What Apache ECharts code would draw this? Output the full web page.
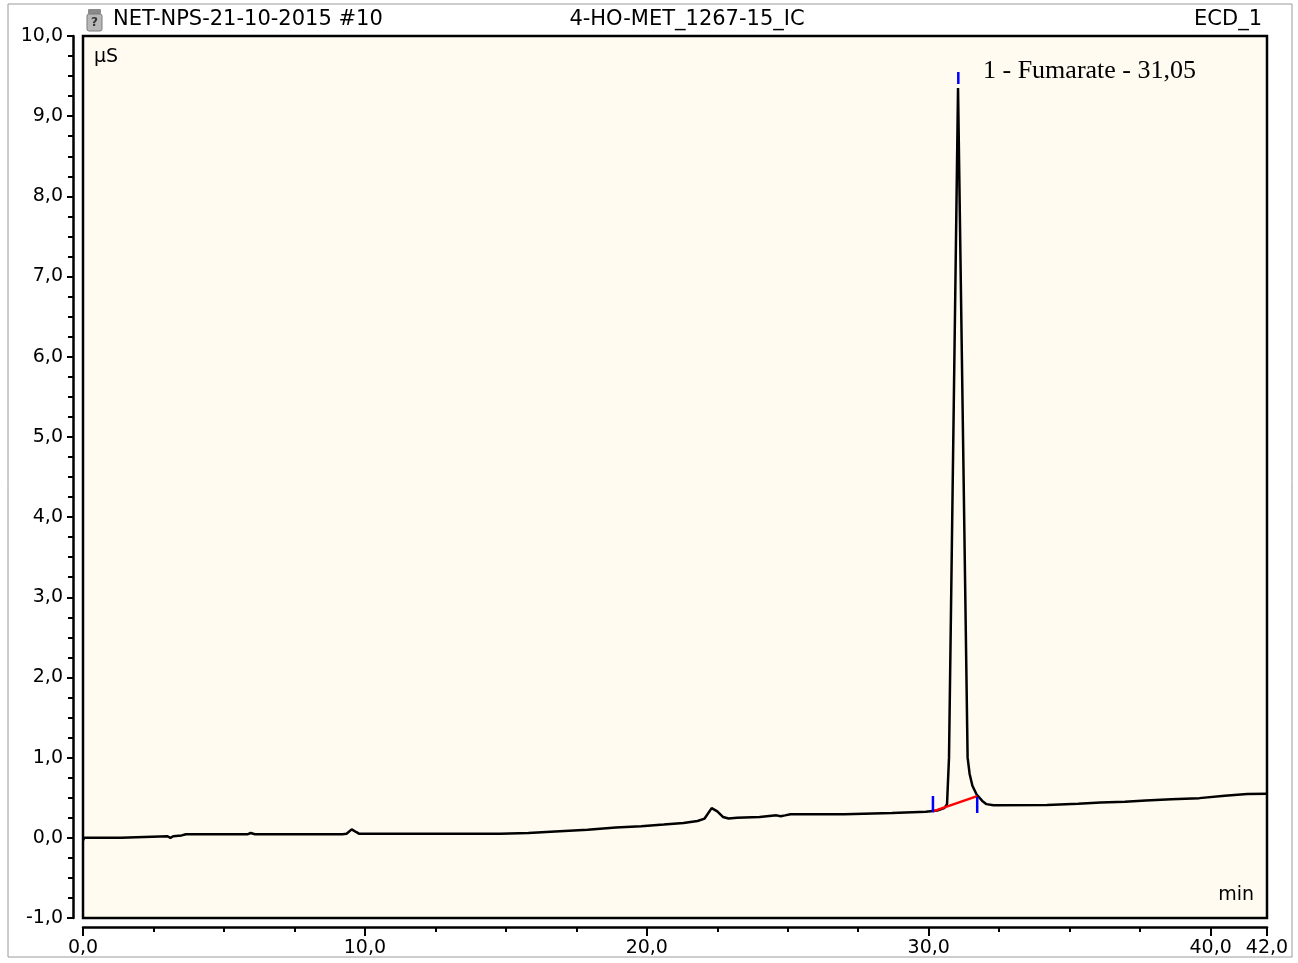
<!DOCTYPE html>
<html>
<head>
<meta charset="utf-8">
<title>NET-NPS-21-10-2015 #10</title>
<script src="https://cdn.jsdelivr.net/npm/echarts@6/dist/echarts.min.js"></script>
<style>
    html, body { margin: 0; padding: 0; background: #fff; }
    #charts-con { width: 1298px; height: 963px; }
</style>
</head>
<body>
<div id="charts-con"></div>
<script>
    // retention time (min) / conductivity (µS)
    var timeMin = [0.0, 0.05, 1.35, 1.4, 3.0, 3.1, 3.2, 3.5, 3.65, 5.85, 5.95, 6.1, 9.2, 9.35, 9.53, 9.7, 9.8,
        14.8, 14.85, 15.8, 15.85, 16.75, 16.8, 17.9, 17.95, 18.9, 19.8, 20.6, 21.3, 21.8, 22.05, 22.3, 22.5, 22.7,
        22.9, 23.2, 24.0, 24.6, 24.75, 24.9, 25.1, 27.0, 27.05, 28.7, 28.75, 29.9, 30.3, 30.55, 30.65, 30.72,
        31.04, 31.07, 31.38, 31.45, 31.55, 31.7, 31.9, 32.05, 32.3, 34.2, 35.3, 36.1, 36.96, 37.7, 38.6, 39.6,
        40.5, 41.3, 42.0];
    var signalUS = [-0.03, 0.0, 0.0, 0.02, 0.02, 0.0, 0.02, 0.03, 0.045, 0.045, 0.06, 0.045, 0.045, 0.05, 0.105, 0.07, 0.05,
        0.05, 0.06, 0.06, 0.08, 0.08, 0.10, 0.10, 0.115, 0.13, 0.145, 0.165, 0.185, 0.21, 0.24, 0.37, 0.33, 0.26,
        0.24, 0.25, 0.26, 0.28, 0.27, 0.28, 0.295, 0.295, 0.31, 0.31, 0.325, 0.325, 0.34, 0.37, 0.42, 1.0,
        9.35, 9.35, 1.0, 0.8, 0.65, 0.54, 0.46, 0.42, 0.405, 0.41, 0.425, 0.44, 0.45, 0.465, 0.48, 0.495,
        0.525, 0.545, 0.55];

    // integration baseline and peak delimiters
    var baseTime = [30.15, 31.72];
    var baseValue = [0.33, 0.52];
    var markStart = [[30.15, 0.32], [30.15, 0.52]];
    var markEnd = [[31.72, 0.31], [31.72, 0.51]];
    var markApex = [[31.05, 9.40], [31.05, 9.55]];

    var xMajor = [0, 10, 20, 30, 40, 42];

    var trace = [];
    for (var i = 0; i < timeMin.length; i++) {
        trace.push([timeMin[i], signalUS[i]]);
    }
    var baseline = [];
    for (var j = 0; j < baseTime.length; j++) {
        baseline.push([baseTime[j], baseValue[j]]);
    }

    var font = 'DejaVu Sans';
    function comma(v) {
        return Number(v).toFixed(1).replace('.', ',');
    }

    var myChart = echarts.init(document.getElementById('charts-con'));
    var option = {
        animation: false,
        backgroundColor: '#ffffff',
        grid: {
            left: 83,
            right: 31,
            top: 36,
            bottom: 45,
            show: true,
            backgroundColor: '#fffbf0',
            borderColor: '#000',
            borderWidth: 2.5
        },
        xAxis: [{
            type: 'value',
            min: 0,
            max: 42,
            interval: 2.5,
            position: 'bottom',
            offset: 9,
            axisLine: { show: true, onZero: false, lineStyle: { color: '#000', width: 2.5 } },
            axisTick: { show: true, length: 5, lineStyle: { color: '#000', width: 2 } },
            axisLabel: { show: false },
            splitLine: { show: false }
        }, {
            type: 'value',
            min: 0,
            max: 42,
            position: 'bottom',
            offset: 9,
            axisLine: { show: false, onZero: false },
            axisTick: { show: true, length: 9, customValues: xMajor, lineStyle: { color: '#000', width: 2 } },
            axisLabel: {
                show: true,
                customValues: xMajor,
                margin: 12,
                color: '#000',
                fontFamily: font,
                fontSize: 19,
                formatter: comma
            },
            splitLine: { show: false }
        }],
        yAxis: {
            type: 'value',
            min: -1,
            max: 10,
            interval: 1,
            offset: 10,
            axisLine: { show: true, onZero: false, lineStyle: { color: '#000', width: 2.5 } },
            axisTick: { show: true, length: 6, lineStyle: { color: '#000', width: 2 } },
            minorTick: { show: true, splitNumber: 4, length: 5, lineStyle: { color: '#000', width: 2 } },
            axisLabel: {
                margin: 10,
                color: '#000',
                fontFamily: font,
                fontSize: 19,
                formatter: comma
            },
            splitLine: { show: false }
        },
        series: [{
            name: 'ECD_1',
            type: 'line',
            symbol: 'none',
            lineStyle: { color: '#000', width: 2.5 },
            data: trace,
            z: 3
        }, {
            name: 'baseline',
            type: 'line',
            symbol: 'none',
            lineStyle: { color: '#ff0000', width: 2.5 },
            data: baseline,
            z: 4
        }, {
            name: 'start',
            type: 'line',
            symbol: 'none',
            lineStyle: { color: '#0000ff', width: 2.5 },
            data: markStart,
            z: 5
        }, {
            name: 'end',
            type: 'line',
            symbol: 'none',
            lineStyle: { color: '#0000ff', width: 2.5 },
            data: markEnd,
            z: 5
        }, {
            name: 'apex',
            type: 'line',
            symbol: 'none',
            lineStyle: { color: '#0000ff', width: 2.5 },
            data: markApex,
            z: 5
        }],
        graphic: [
            // outer frame
            { type: 'rect', shape: { x: 8, y: 4, width: 1284, height: 953 }, style: { fill: 'none', stroke: '#9a9a9a', lineWidth: 1 }, silent: true },
            // vial icon
            { type: 'rect', shape: { x: 88, y: 9, width: 13, height: 5, r: 1 }, style: { fill: '#8a8a8a' }, silent: true },
            { type: 'rect', shape: { x: 87, y: 14, width: 15, height: 17, r: 2 }, style: { fill: '#b8b8b8', stroke: '#7a7a7a', lineWidth: 1 }, silent: true },
            { type: 'text', x: 94.5, y: 23, style: { text: '?', fill: '#333', font: 'bold 12px ' + font, align: 'center', verticalAlign: 'middle' }, silent: true },
            { type: 'text', x: 113, y: 20, style: { text: 'NET-NPS-21-10-2015 #10', fill: '#000', font: '21px ' + font, verticalAlign: 'middle' } },
            { type: 'text', x: 687, y: 20, style: { text: '4-HO-MET_1267-15_IC', fill: '#000', font: '21px ' + font, align: 'center', verticalAlign: 'middle' } },
            { type: 'text', x: 1262, y: 20, style: { text: 'ECD_1', fill: '#000', font: '21px ' + font, align: 'right', verticalAlign: 'middle' } },
            { type: 'text', x: 94, y: 57, style: { text: 'µS', fill: '#000', font: '19px ' + font, verticalAlign: 'middle' } },
            { type: 'text', x: 1254, y: 895, style: { text: 'min', fill: '#000', font: '19px ' + font, align: 'right', verticalAlign: 'middle' } },
            { type: 'text', x: 983, y: 71, style: { text: '1 - Fumarate - 31,05', fill: '#000', font: '26px "Liberation Serif"', verticalAlign: 'middle' } }
        ]
    };
    myChart.setOption(option);
</script>
</body>
</html>
